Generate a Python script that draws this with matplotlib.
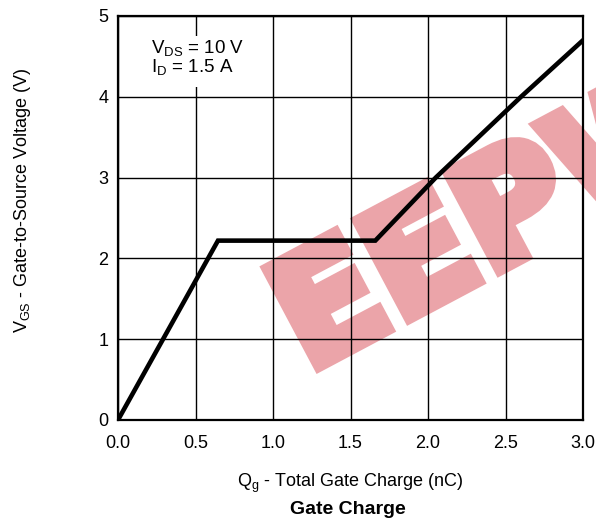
import matplotlib
matplotlib.use("Agg")
import matplotlib.pyplot as plt
from matplotlib.patches import Rectangle
import matplotlib.patheffects as pe

plt.rcParams['font.family'] = ['Liberation Sans', 'DejaVu Sans']
plt.rcParams['mathtext.fontset'] = 'custom'
plt.rcParams['mathtext.rm'] = 'Liberation Sans'

# gate charge curve (nC, V)
qg = [0.0, 0.645, 1.66, 2.05, 2.6, 3.0]
vgs = [0.0, 2.22, 2.22, 3.0, 4.0, 4.70]

xticks = [0.0, 0.5, 1.0, 1.5, 2.0, 2.5, 3.0]
xtick_labels = ['0.0', '0.5', '1.0', '1.5', '2.0', '2.5', '3.0']
yticks = [0, 1, 2, 3, 4, 5]

fig = plt.figure(figsize=(5.96, 5.23), dpi=100)
ax = fig.add_axes([118/596, 1 - 420/523, 465/596, 404/523])
ax.set_facecolor('none')

ax.plot(qg, vgs, color='black', lw=3.3, solid_joinstyle='miter', zorder=3)

ax.set_xlim(0, 3.0)
ax.set_ylim(0, 5)
ax.set_xticks(xticks)
ax.set_xticklabels(xtick_labels)
ax.set_yticks(yticks)
ax.grid(True, color='black', lw=1.0)
ax.tick_params(length=0, labelsize=13)
ax.tick_params(axis='x', pad=11)
ax.tick_params(axis='y', pad=7)
for s in ax.spines.values():
    s.set_linewidth(1.6)

# white box behind the conditions text
ax.add_patch(Rectangle((0.06, 0.825), 0.27, 0.125, transform=ax.transAxes,
                       facecolor='white', edgecolor='none', zorder=2))
ax.text(0.07, 0.945, r'$\mathregular{V_{DS}}$ = 10 V' + '\n' + r'$\mathregular{I_D}$ = 1.5 A',
        transform=ax.transAxes, ha='left', va='top', fontsize=13.5,
        linespacing=0.95, zorder=4)

ax.set_xlabel(r'$\mathregular{Q_g}$ - Total Gate Charge (nC)', fontsize=13, labelpad=14)
ax.set_ylabel(r'$\mathregular{V_{GS}}$ - Gate-to-Source Voltage (V)', fontsize=13)
ax.yaxis.set_label_coords(-0.183, 0.545)
fig.text(348/596, 1 - 509/523, 'Gate Charge', ha='center', va='center',
         fontsize=14, fontweight='bold')

# watermark, behind the plot content
fig.text(307/596, 1 - 372/523, 'EEPW', rotation=28, rotation_mode='anchor',
         ha='left', va='baseline', fontsize=108, fontweight='bold',
         family='DejaVu Sans', color='#eba4a9', zorder=-1,
         path_effects=[pe.Stroke(linewidth=9, foreground='#eba4a9',
                                 joinstyle='miter'), pe.Normal()])

fig.savefig('out.png', dpi=100)
